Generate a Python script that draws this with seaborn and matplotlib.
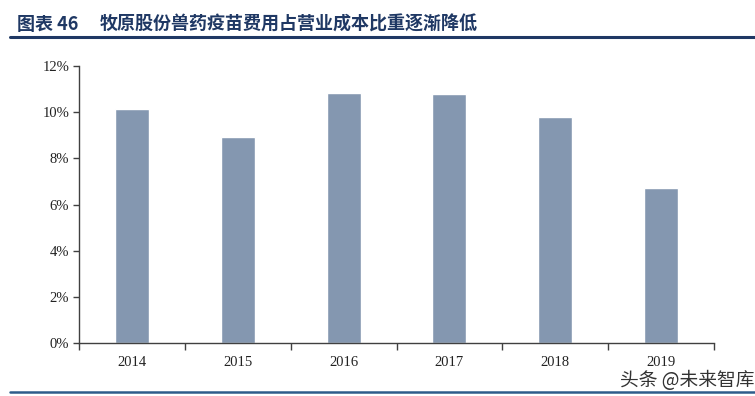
import matplotlib
matplotlib.use("Agg")
import matplotlib.pyplot as plt
import seaborn as sns
import pandas as pd
import numpy as np
from matplotlib.lines import Line2D
from matplotlib.ticker import FuncFormatter, FixedLocator

years = ["2014", "2015", "2016", "2017", "2018", "2019"]
ratios = [0.1014, 0.0892, 0.1083, 0.1079, 0.0979, 0.0672]
title_label = "图表 46"
title_text = "牧原股份兽药疫苗费用占营业成本比重逐渐降低"
watermark = "头条 @未来智库"

df = pd.DataFrame({"year": years, "ratio": ratios})

sns.set_theme(style="white")
plt.rcParams["font.family"] = ["Noto Sans CJK SC", "DejaVu Sans"]

fig = plt.figure(figsize=(7.55, 3.96), dpi=100)
ax = fig.add_axes([79/755, (396-343)/396, (714-79)/755, (343-66)/396])

sns.barplot(data=df, x="year", y="ratio", color="#8497B0", width=0.32,
            saturation=1, ax=ax)

ax.set_ylim(0, 0.12)
ax.set_xlim(-0.5, len(years) - 0.5)
ax.set_yticks(np.arange(0, 0.121, 0.02))
ax.yaxis.set_major_formatter(FuncFormatter(lambda v, p: f"{v*100:.0f}%"))
ax.set_xlabel("")
ax.set_ylabel("")

for s in ["top", "right"]:
    ax.spines[s].set_visible(False)
for s in ["left", "bottom"]:
    ax.spines[s].set_color("#404040")
    ax.spines[s].set_linewidth(1.0)

ax.xaxis.set_minor_locator(FixedLocator(np.arange(-0.5, len(years), 1.0)))
ax.tick_params(axis="x", which="major", length=0, pad=9, labelsize=10.5,
               labelcolor="#222222")
ax.tick_params(axis="x", which="minor", direction="out", length=5,
               width=1, color="#404040", bottom=True)
ax.tick_params(axis="y", which="major", direction="out", length=4, width=1,
               color="#404040", left=True, labelsize=10.5, labelcolor="#222222",
               pad=3)
for lab in ax.get_xticklabels() + ax.get_yticklabels():
    lab.set_fontfamily(["Liberation Serif", "DejaVu Serif"])

fig.text(17/755, 1 - 24/396, title_label, fontsize=13, fontweight="bold",
         color="#1F3864", va="center", ha="left",
         family=["Noto Sans CJK SC", "DejaVu Sans"])
fig.text(100/755, 1 - 24/396, title_text, fontsize=13, fontweight="bold",
         color="#1F3864", va="center", ha="left",
         family=["Noto Sans CJK SC", "DejaVu Sans"])

fig.add_artist(Line2D([10/755, 1.0], [1 - 37/396, 1 - 37/396],
                      color="#1F3864", linewidth=2.2, transform=fig.transFigure))
fig.add_artist(Line2D([10/755, 1.0], [1 - 392/396, 1 - 392/396],
                      color="#2E5C8A", linewidth=1.8, transform=fig.transFigure))

fig.text(754/755, 1 - 380/396, watermark, fontsize=13.5, color="#333333",
         ha="right", va="center", family=["Noto Sans CJK SC", "DejaVu Sans"])

fig.savefig("out.png", dpi=100, facecolor="white")
